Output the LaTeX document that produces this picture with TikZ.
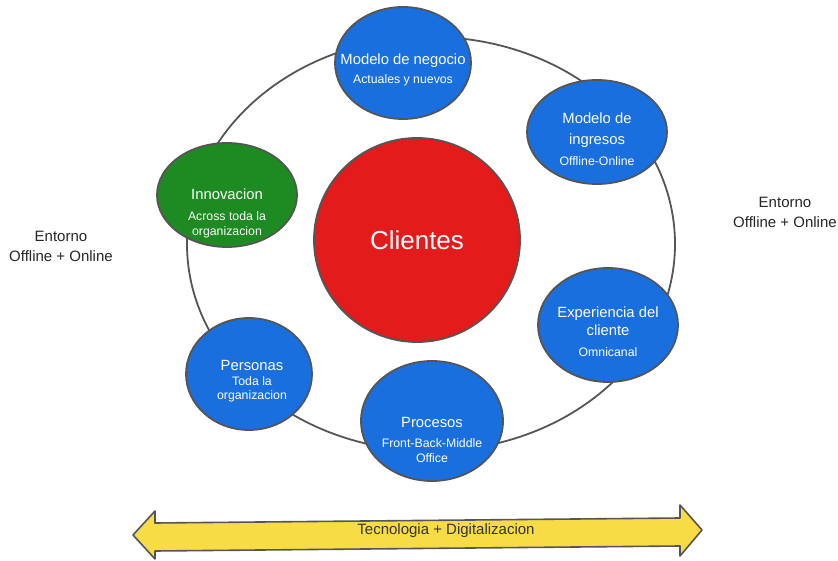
\documentclass[tikz,border=0pt]{standalone}
\usepackage{fontspec}
\setmainfont{Liberation Sans}
\usetikzlibrary{shapes.geometric}
\definecolor{bubblue}{HTML}{1A6FDF}
\definecolor{bubgreen}{HTML}{1E8A22}
\definecolor{bubred}{HTML}{E31B1B}
\definecolor{edgegray}{HTML}{555555}
\definecolor{arrowyellow}{HTML}{F8DC45}
\tikzset{
  bubble/.style={ellipse, draw=edgegray, line width=1.8pt, inner sep=0pt},
  bluebub/.style={bubble, fill=bubblue},
  txt/.style={text=white, align=center, inner sep=0pt},
  big/.style={font=\fontsize{14.8}{21}\selectfont},
  envtxt/.style={align=center, text=black!85, font=\fontsize{15}{20}\selectfont, inner sep=0pt},
}
\newcommand{\smalltxt}[1]{{\fontsize{12.3}{15}\selectfont #1}}
\begin{document}
\begin{tikzpicture}[x=1pt,y=-1pt]
\useasboundingbox (0,0) rectangle (838,561);
% ring
\node[ellipse, draw=edgegray, line width=1.8pt, minimum width=488pt, minimum height=414pt] (ring) at (431,244) {};
% bubbles
\node[bluebub, minimum width=136pt, minimum height=112pt] (negocio) at (403,63) {};
\node[bluebub, minimum width=140pt, minimum height=104pt] (ingresos) at (597,132) {};
\node[bubble, fill=bubgreen, minimum width=140pt, minimum height=104pt] (innov) at (227,195) {};
\node[bubble, fill=bubred, minimum width=206pt, minimum height=204pt] (clientes) at (417,240) {};
\node[bluebub, minimum width=140pt, minimum height=114pt] (exper) at (608,325) {};
\node[bluebub, minimum width=126pt, minimum height=112pt] (personas) at (249,374) {};
\node[bluebub, minimum width=142pt, minimum height=120pt] (procesos) at (432,421) {};
% texts
\node[txt, big] (tnegocio) at (403,70) {Modelo de negocio\\[-2pt]\smalltxt{Actuales y nuevos}};
\node[txt, big] (tingresos) at (597,139) {Modelo de\\ingresos\\\smalltxt{Offline-Online}};
\node[txt, big] (tinnov) at (227,213) {Innovacion\\\smalltxt{Across toda la}\\[-6pt]\smalltxt{organizacion}};
\node[txt, big] (tpersonas) at (252,381) {Personas\\[-6pt]\smalltxt{Toda la}\\[-7pt]\smalltxt{organizacion}};
\node[txt, big] (tprocesos) at (432,440) {Procesos\\[-1pt]\smalltxt{Front-Back-Middle}\\[-6pt]\smalltxt{Office}};
\node[txt, font=\fontsize{26}{30}\selectfont] (tclientes) at (417,240) {Clientes};
\node[txt, big] (texper) at (608,332) {Experiencia del\\[-3pt]cliente\\\smalltxt{Omnicanal}};
% environment labels
\node[envtxt] (entL) at (61,246) {Entorno\\Offline + Online};
\node[envtxt] (entR) at (785,212) {Entorno\\Offline + Online};
% yellow double arrow
\draw[draw=edgegray, line width=1.6pt, fill=arrowyellow, line join=round]
  (133,535) -- (155,511) -- (155,523) -- (680,518) -- (680,505) -- (702,530)
  -- (680,556) -- (680,546) -- (155,551) -- (155,559) -- cycle;
\node[text=black!80, font=\fontsize{15}{18}\selectfont, inner sep=0pt] (tech) at (446,531) {Tecnologia + Digitalizacion};
\end{tikzpicture}
\end{document}
